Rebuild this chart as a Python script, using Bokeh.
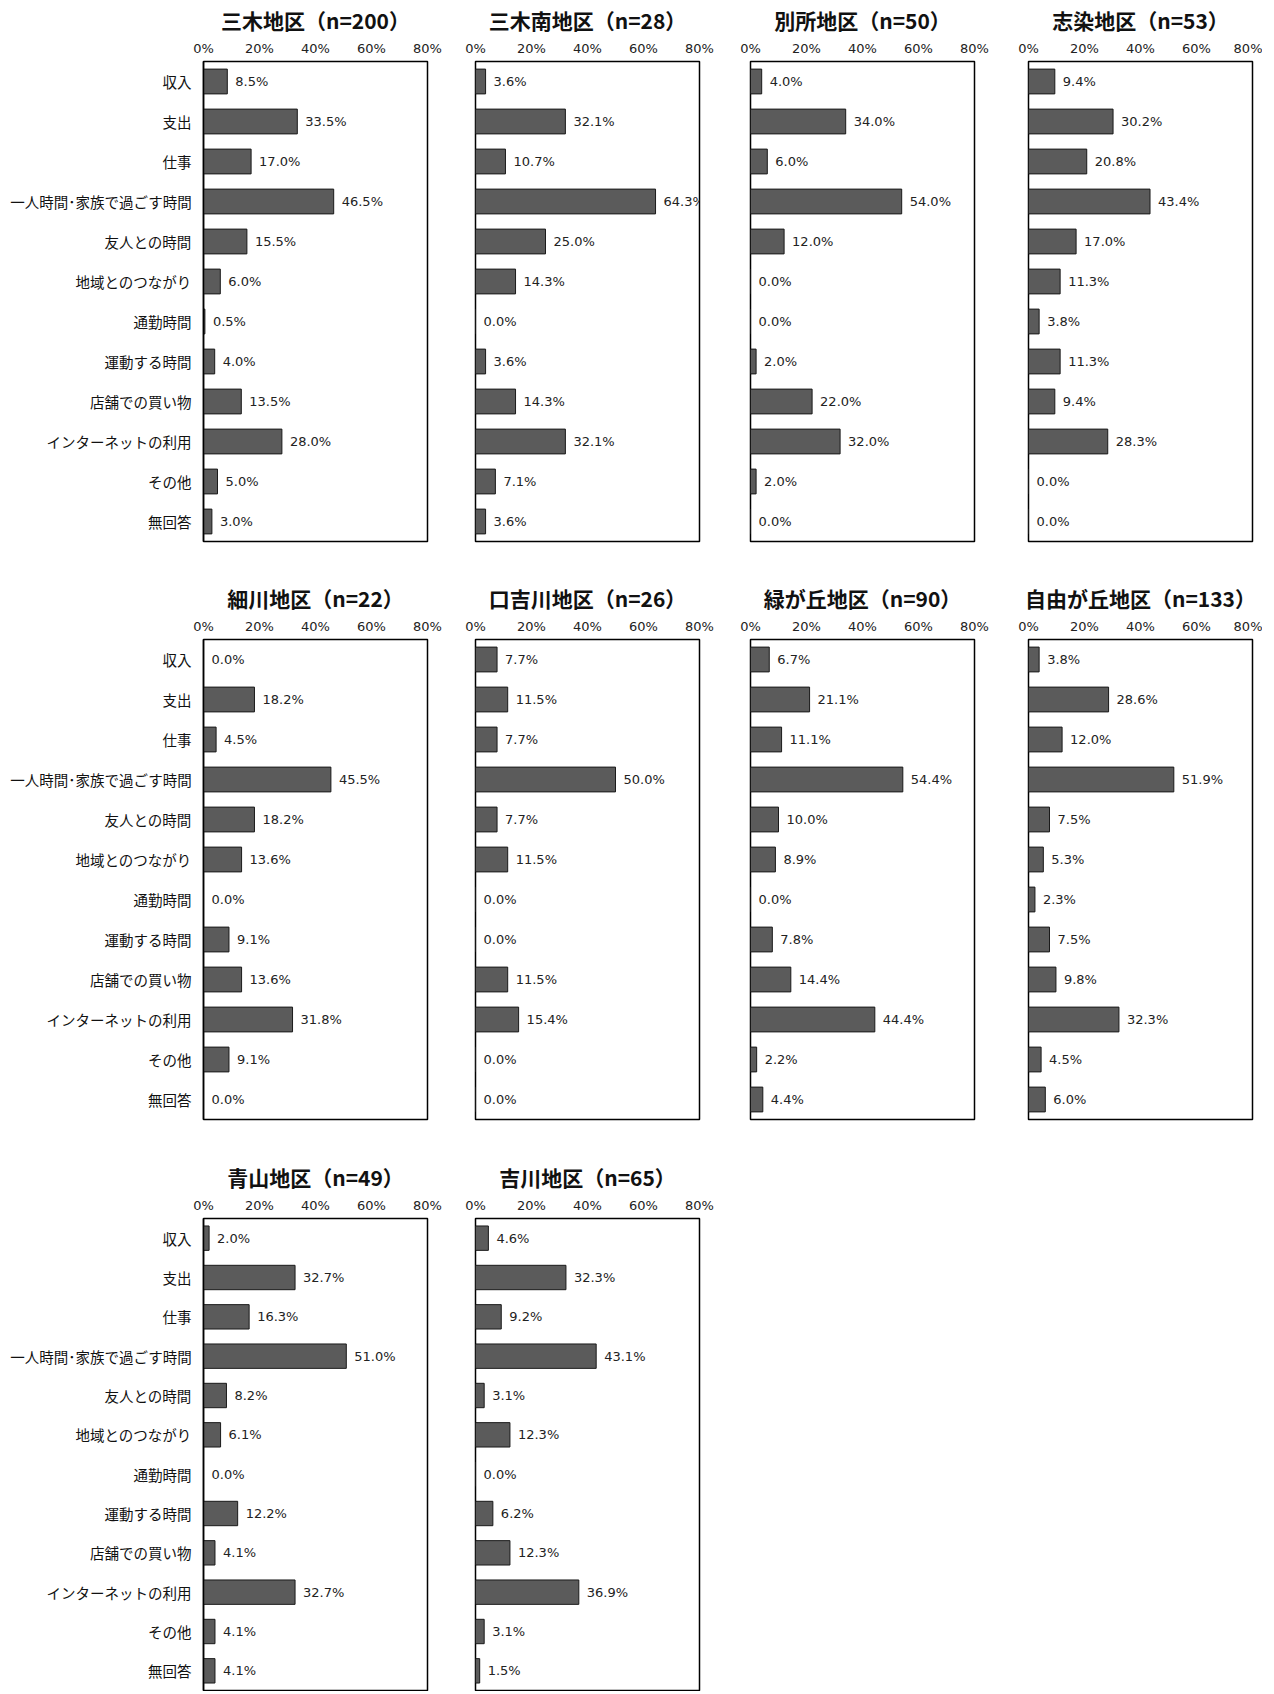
from bokeh.plotting import figure
from bokeh.layouts import column, row
from bokeh.models import ColumnDataSource, FactorRange, Range1d, FixedTicker, PrintfTickFormatter
from bokeh.core.properties import value
from bokeh.embed import file_html
from bokeh.resources import INLINE

categories = ["収入", "支出", "仕事", "一人時間･家族で過ごす時間", "友人との時間", "地域とのつながり",
              "通勤時間", "運動する時間", "店舗での買い物", "インターネットの利用", "その他", "無回答"]

titles = ["三木地区（n=200）", "三木南地区（n=28）", "別所地区（n=50）", "志染地区（n=53）",
          "細川地区（n=22）", "口吉川地区（n=26）", "緑が丘地区（n=90）", "自由が丘地区（n=133）",
          "青山地区（n=49）", "吉川地区（n=65）"]

miki = [8.5, 33.5, 17.0, 46.5, 15.5, 6.0, 0.5, 4.0, 13.5, 28.0, 5.0, 3.0]
mikiminami = [3.6, 32.1, 10.7, 64.3, 25.0, 14.3, 0.0, 3.6, 14.3, 32.1, 7.1, 3.6]
bessho = [4.0, 34.0, 6.0, 54.0, 12.0, 0.0, 0.0, 2.0, 22.0, 32.0, 2.0, 0.0]
shijimi = [9.4, 30.2, 20.8, 43.4, 17.0, 11.3, 3.8, 11.3, 9.4, 28.3, 0.0, 0.0]
hosokawa = [0.0, 18.2, 4.5, 45.5, 18.2, 13.6, 0.0, 9.1, 13.6, 31.8, 9.1, 0.0]
kuchiyokawa = [7.7, 11.5, 7.7, 50.0, 7.7, 11.5, 0.0, 0.0, 11.5, 15.4, 0.0, 0.0]
midorigaoka = [6.7, 21.1, 11.1, 54.4, 10.0, 8.9, 0.0, 7.8, 14.4, 44.4, 2.2, 4.4]
jiyugaoka = [3.8, 28.6, 12.0, 51.9, 7.5, 5.3, 2.3, 7.5, 9.8, 32.3, 4.5, 6.0]
aoyama = [2.0, 32.7, 16.3, 51.0, 8.2, 6.1, 0.0, 12.2, 4.1, 32.7, 4.1, 4.1]
yokawa = [4.6, 32.3, 9.2, 43.1, 3.1, 12.3, 0.0, 6.2, 12.3, 36.9, 3.1, 1.5]

series = [miki, mikiminami, bessho, shijimi, hosokawa, kuchiyokawa, midorigaoka, jiyugaoka, aoyama, yokawa]
x_ticks = [0, 20, 40, 60, 80]

JP = "Noto Sans CJK JP"
NUM = "DejaVu Sans"

# layout per column: (min_border_left, frame_width, min_border_right)
col_spec = [(203, 224, 25), (23, 224, 26), (25, 224, 28), (26, 224, 10)]
# per row: (frame_height, min_border_bottom)
row_spec = [(480, 37), (480, 38), (472, 1)]


def make_panel(idx):
    r, c = divmod(idx, 4)
    bl, fw, br = col_spec[c]
    fh, bb = row_spec[r]
    vals = series[idx]
    src = ColumnDataSource(dict(cat=categories, v=vals, lbl=["%.1f%%" % v for v in vals]))
    p = figure(y_range=FactorRange(factors=list(reversed(categories))), x_range=Range1d(0, 80),
               frame_width=fw, frame_height=fh, x_axis_location="above",
               output_backend="svg", toolbar_location=None,
               min_border_left=bl, min_border_right=br, min_border_top=55, min_border_bottom=bb,
               title=titles[idx])
    p.title.align = "center"
    p.title.text_font = JP
    p.title.text_font_size = "21px"
    p.title.text_font_style = "bold"
    p.title.text_color = "#111111"
    p.title.standoff = 5

    p.hbar(y="cat", right="v", left=0, height=0.62, source=src,
           fill_color="#5b5b5b", line_color="#1a1a1a", line_width=1)
    p.text(x="v", y="cat", text="lbl", source=src, x_offset=8,
           text_baseline="middle", text_align="left",
           text_font=value(NUM), text_font_size="13px", text_color="#222222")

    xa = p.xaxis[0]
    xa.ticker = FixedTicker(ticks=x_ticks)
    xa.formatter = PrintfTickFormatter(format="%d%%")
    xa.major_tick_out = 0
    xa.major_tick_in = 0
    xa.minor_tick_out = 0
    xa.minor_tick_in = 0
    xa.major_tick_line_color = None
    xa.minor_tick_line_color = None
    xa.axis_line_color = None
    xa.major_label_standoff = 6
    xa.major_label_text_font = NUM
    xa.major_label_text_font_size = "13px"
    xa.major_label_text_color = "#222222"

    ya = p.yaxis[0]
    if c == 0:
        ya.major_tick_out = 0
        ya.major_tick_in = 0
        ya.minor_tick_out = 0
        ya.minor_tick_in = 0
        ya.major_tick_line_color = None
        ya.minor_tick_line_color = None
        ya.axis_line_color = "#000000"
        ya.axis_line_width = 1.5
        ya.major_label_standoff = 12
        ya.major_label_text_font = JP
        ya.major_label_text_font_size = "14.5px"
        ya.major_label_text_color = "#111111"
    else:
        ya.visible = False

    p.xgrid.visible = False
    p.ygrid.visible = False
    p.outline_line_color = "#000000"
    p.outline_line_width = 1.5
    p.background_fill_color = "white"
    p.border_fill_color = "white"
    return p


panels = [make_panel(i) for i in range(len(series))]
layout = column(
    row(*panels[0:4], spacing=0),
    row(*panels[4:8], spacing=0),
    row(*panels[8:10], spacing=0),
    spacing=0,
)

open("out.html", "w").write(file_html(layout, INLINE))
